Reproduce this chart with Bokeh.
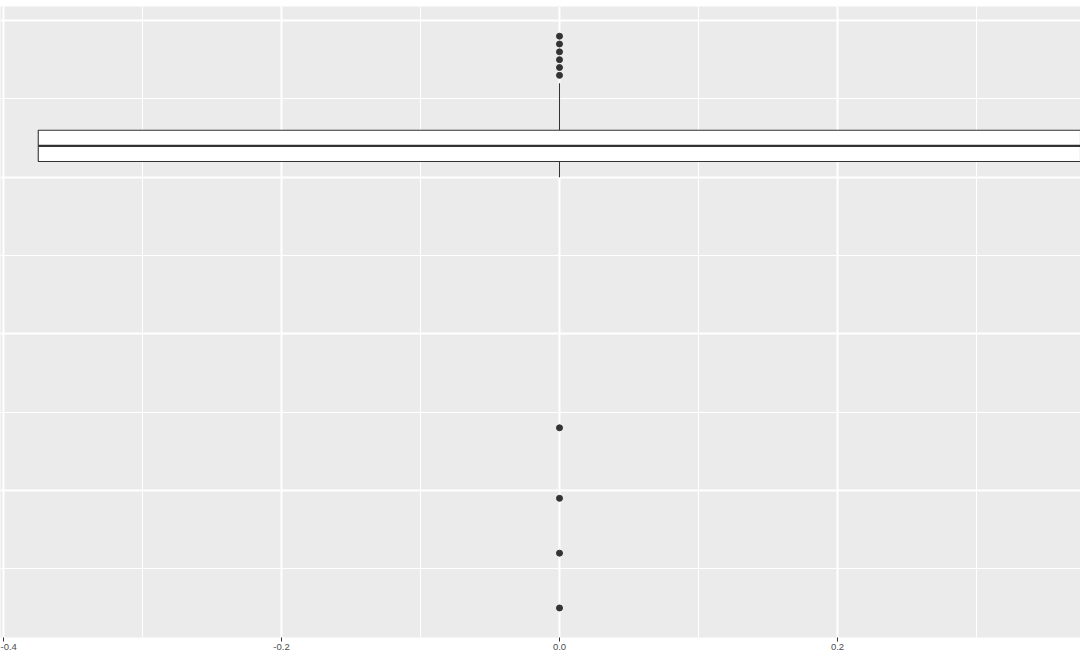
from bokeh.plotting import figure
from bokeh.models import FixedTicker, Range1d
from bokeh.embed import file_html
from bokeh.resources import INLINE

# ---- data ----
box_x = [0.0]
box_q1 = [42.0]
box_median = [44.0]
box_q3 = [46.0]
whisker_low = [40.0]
whisker_high = [52.0]
outlier_y = [58.0, 57.0, 56.0, 55.0, 54.0, 53.0, 8.0, -1.0, -8.0, -15.0]
outlier_x = [0.0] * len(outlier_y)

x_tick_values = [-0.4, -0.2, 0.0, 0.2, 0.4]
x_tick_labels = ["-0.4", "-0.2", "0.0", "0.2", "0.4"]
x_minor_values = [-0.3, -0.1, 0.1, 0.3]
y_major_values = [0, 20, 40, 60]
y_minor_values = [-10, 10, 30, 50]

# ---- styles ----
BOX_WIDTH = 0.75
DARK = "#333333"
PANEL = "#EBEBEB"
FONT = "Liberation Sans"

p = figure(
    frame_width=1080, frame_height=631,
    x_range=Range1d(-0.40216, 0.37482),
    y_range=Range1d(-18.77, 61.79),
    output_backend="svg", toolbar_location=None,
    min_border_left=0, min_border_right=0, min_border_top=6, min_border_bottom=0,
)
p.background_fill_color = PANEL
p.border_fill_color = "white"
p.outline_line_color = None

# axes
p.yaxis.visible = False
p.xaxis.ticker = FixedTicker(ticks=x_tick_values, minor_ticks=x_minor_values)
p.xaxis.major_label_overrides = {v: l for v, l in zip(x_tick_values, x_tick_labels)}
p.xaxis.axis_line_color = None
p.xaxis.major_tick_line_color = DARK
p.xaxis.major_tick_out = 4
p.xaxis.major_tick_in = 0
p.xaxis.minor_tick_line_color = None
p.xaxis.major_label_standoff = 2
p.xaxis.major_label_text_font = FONT
p.xaxis.major_label_text_font_size = "9.5px"
p.xaxis.major_label_text_color = "#4D4D4D"

# grids
p.xgrid.ticker = FixedTicker(ticks=x_tick_values, minor_ticks=x_minor_values)
p.ygrid.ticker = FixedTicker(ticks=y_major_values, minor_ticks=y_minor_values)
for g in (p.xgrid, p.ygrid):
    g.grid_line_color = "white"
    g.grid_line_width = 2
    g.minor_grid_line_color = "white"
    g.minor_grid_line_width = 1

# whiskers
p.segment(x0=box_x + box_x, y0=box_q3 + box_q1, x1=box_x + box_x, y1=whisker_high + whisker_low,
          line_color=DARK, line_width=1.1)
# box
p.vbar(x=box_x, width=BOX_WIDTH, bottom=box_q1, top=box_q3,
       fill_color="white", line_color=DARK, line_width=1.1)
# median
p.segment(x0=[x - BOX_WIDTH / 2 for x in box_x], x1=[x + BOX_WIDTH / 2 for x in box_x],
          y0=box_median, y1=box_median, line_color=DARK, line_width=2.2)
# outliers
p.scatter(x=outlier_x, y=outlier_y, size=6, fill_color=DARK, line_color=DARK)

open("out.html", "w").write(file_html(p, INLINE))
